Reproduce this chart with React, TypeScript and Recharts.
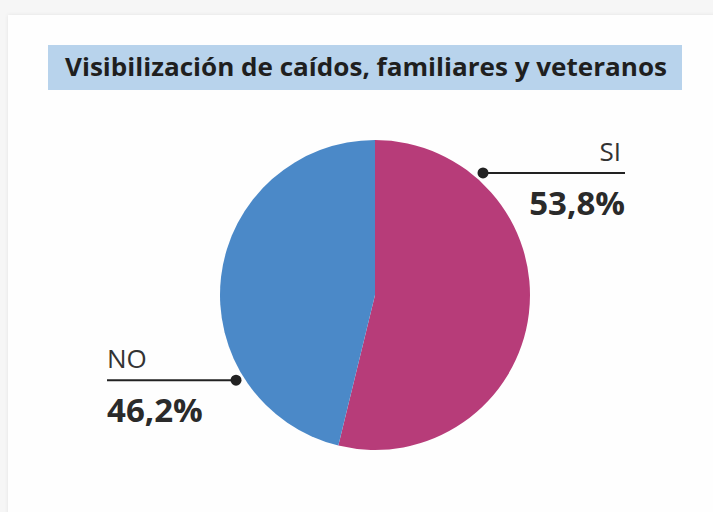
import React from 'react';
import { PieChart, Pie, Cell } from 'recharts';

const categories = ['SI', 'NO'];
const values = [53.8, 46.2];
const valueLabels = ['53,8%', '46,2%'];
const colors = ['#b73c79', '#4b89c8'];

const data = categories.map((name, i) => ({ name, value: values[i] }));

// where each callout touches the pie (degrees clockwise from 12 o'clock)
const anchorAngles = [41.5, 238.5];

const TEXT = '#2a2a2a';

function renderLabel(props: any) {
  const { cx, cy, outerRadius, index } = props;
  const a = (anchorAngles[index] * Math.PI) / 180;
  const r = outerRadius + 8;
  const x = cx + r * Math.sin(a);
  const y = cy - r * Math.cos(a);
  const right = index === 0;
  const x2 = right ? x + 142 : x - 129;
  const anchor = right ? 'end' : 'start';
  return (
    <g key={`lbl-${index}`}>
      <line x1={x} y1={y} x2={x2} y2={y} stroke="#222" strokeWidth={2} />
      <circle cx={x} cy={y} r={5.5} fill="#222" />
      <text x={right ? x2 - 4 : x2} y={y - 12} textAnchor={anchor} fill="#333" fontSize={26} fontFamily="'Open Sans', sans-serif">
        {categories[index]}
      </text>
      <text x={x2} y={y + 42} textAnchor={anchor} fill={TEXT} fontSize={33} fontWeight={700} fontFamily="'Open Sans', sans-serif">
        {valueLabels[index]}
      </text>
    </g>
  );
}

export default function App() {
  return (
    <div style={{ position: 'absolute', left: 0, top: 0, width: 713, height: 512, background: '#f6f6f6', overflow: 'hidden' }}>
      <div
        style={{
          position: 'absolute',
          left: 8,
          top: 15,
          width: 720,
          height: 520,
          background: '#fefefe',
          boxShadow: '0 0 4px rgba(0,0,0,0.08)',
        }}
      />
      <div style={{ position: 'absolute', left: 48, top: 45, width: 634, height: 45, background: '#b8d3ec' }}>
        <svg width={634} height={45} style={{ overflow: 'visible' }}>
          <text
            x={17}
            y={31}
            fontSize={25}
            fontWeight={700}
            fill="#1f1f1f"
            fontFamily="'Open Sans', sans-serif"
            textLength={602}
            lengthAdjust="spacingAndGlyphs"
          >
            Visibilización de caídos, familiares y veteranos
          </text>
        </svg>
      </div>
      <div style={{ position: 'absolute', left: 0, top: 0 }}>
        <PieChart width={713} height={512} margin={{ top: 0, right: 0, bottom: 0, left: 0 }}>
          <Pie
            data={data}
            dataKey="value"
            nameKey="name"
            cx={375}
            cy={295}
            outerRadius={155}
            startAngle={90}
            endAngle={-270}
            stroke="none"
            label={renderLabel}
            labelLine={false}
            isAnimationActive={false}
          >
            {data.map((d, i) => (
              <Cell key={d.name} fill={colors[i]} />
            ))}
          </Pie>
        </PieChart>
      </div>
    </div>
  );
}
